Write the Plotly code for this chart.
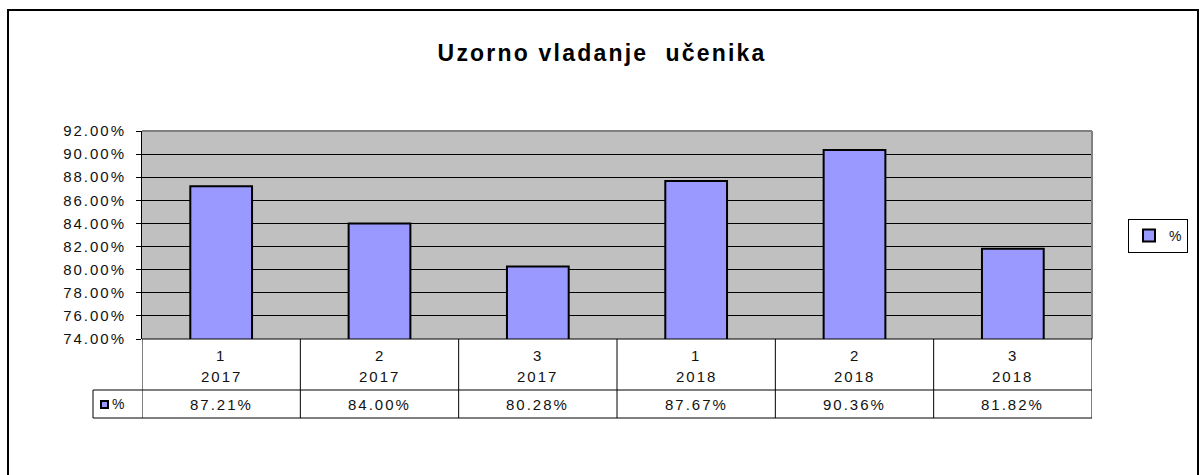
import plotly.graph_objects as go

# ---- data ----
quarters = ["1", "2", "3", "1", "2", "3"]
years = ["2017", "2017", "2017", "2018", "2018", "2018"]
values = [87.21, 84.00, 80.28, 87.67, 90.36, 81.82]
series_name = "%"
title_text = "Uzorno vladanje  učenika"
y_ticks = [74, 76, 78, 80, 82, 84, 86, 88, 90, 92]

W, H = 1200, 475
FONT = "Liberation Sans, Arial, sans-serif"
TXT = "#111"


def px(x):
    return x / W


def py(y):
    return 1 - y / H


PL, PR, PT, PB = 142, 1092, 131, 339  # plot area in pixels
ROW1_B, ROW2_B, KEY_L = 390, 418, 93

xs = list(range(len(values)))

fig = go.Figure()
fig.add_trace(go.Bar(
    x=xs, y=values, name=series_name, width=0.39,
    marker=dict(color="#9999FF", line=dict(color="black", width=2)),
    showlegend=True, hoverinfo="skip",
))

shapes = []
shapes.append(dict(type="rect", xref="paper", yref="paper",
                   x0=px(8), x1=px(1198), y0=py(490), y1=py(10),
                   line=dict(color="black", width=2), layer="below"))
shapes.append(dict(type="line", xref="paper", yref="paper",
                   x0=px(PL), x1=px(PR), y0=py(PT), y1=py(PT),
                   line=dict(color="#808080", width=2)))
shapes.append(dict(type="line", xref="paper", yref="paper",
                   x0=px(PR), x1=px(PR), y0=py(PT), y1=py(PB),
                   line=dict(color="#808080", width=2)))
line_k = dict(color="black", width=1)
shapes.append(dict(type="line", xref="paper", yref="paper",
                   x0=px(PL), x1=px(PR), y0=py(PB), y1=py(PB), line=line_k))
for yy in (ROW1_B, ROW2_B):
    shapes.append(dict(type="line", xref="paper", yref="paper",
                       x0=px(KEY_L), x1=px(PR), y0=py(yy), y1=py(yy), line=line_k))
shapes.append(dict(type="line", xref="paper", yref="paper",
                   x0=px(KEY_L), x1=px(KEY_L), y0=py(ROW1_B), y1=py(ROW2_B), line=line_k))
for i in range(len(values) + 1):
    shapes.append(dict(type="line", xref="x", yref="paper",
                       x0=i - 0.5, x1=i - 0.5, y0=py(PB), y1=py(ROW2_B), line=line_k))
shapes.append(dict(type="rect", xref="paper", yref="paper",
                   x0=px(101), x1=px(108), y0=py(408), y1=py(401),
                   fillcolor="#9999FF", line=dict(color="black", width=2)))

annotations = [dict(text=f"<b>{title_text}</b>", xref="paper", yref="paper",
                    x=px(602), y=py(53), xanchor="center", yanchor="middle",
                    showarrow=False, font=dict(family=FONT, size=23, color="black"))]
cell_font = dict(family=FONT, size=15, color=TXT)
for i, (q, yr, v) in enumerate(zip(quarters, years, values)):
    for txt, yy in ((q, 355), (yr, 376), (f"{v:.2f}%", 404)):
        annotations.append(dict(text=txt, xref="x", yref="paper", x=i, y=py(yy),
                                xanchor="center", yanchor="middle",
                                showarrow=False, font=cell_font))
annotations.append(dict(text=series_name, xref="paper", yref="paper", x=px(111), y=py(404),
                        xanchor="left", yanchor="middle", showarrow=False,
                        font=dict(family=FONT, size=14, color=TXT)))

fig.update_layout(
    width=W, height=H,
    margin=dict(l=0, r=0, t=0, b=0, autoexpand=False),
    paper_bgcolor="white", plot_bgcolor="#C0C0C0",
    font=dict(family=FONT, size=15, color=TXT),
    hovermode=False,
    xaxis=dict(domain=[px(PL), px(PR)], range=[-0.5, len(values) - 0.5],
               showticklabels=False, showgrid=False, zeroline=False, ticks="",
               automargin=False, fixedrange=True),
    yaxis=dict(domain=[py(PB), py(PT)], range=[74, 92], tickvals=y_ticks,
               ticktext=[f"{t:.2f}%" for t in y_ticks],
               showgrid=True, gridcolor="black", gridwidth=1,
               showline=True, linecolor="black", linewidth=1,
               ticks="outside", ticklen=5, tickcolor="black", automargin=False,
               ticklabelstandoff=7, fixedrange=True,
               zeroline=False, tickfont=dict(family=FONT, size=15, color=TXT)),
    shapes=shapes, annotations=annotations,
    legend=dict(x=px(1128), y=py(219), xanchor="left", yanchor="top",
                bordercolor="black", borderwidth=1, bgcolor="white",
                font=dict(family=FONT, size=14, color=TXT),
                itemwidth=30, tracegroupgap=0),
    bargap=0.6,
)

post = """
document.body.style.margin='0';
var gd = document.getElementsByClassName('plotly-graph-div')[0];
function spacing(){
  var ann = gd.querySelectorAll('.annotation-text');
  ann.forEach(function(t, k){ t.style.letterSpacing = (k === 0 ? '2.2px' : '2px'); });
  gd.querySelectorAll('.ytick text').forEach(function(t){ t.style.letterSpacing='2px'; });
}
spacing();
"""

fig.write_html("out.html", post_script=post, config={"displayModeBar": False, "staticPlot": True})
